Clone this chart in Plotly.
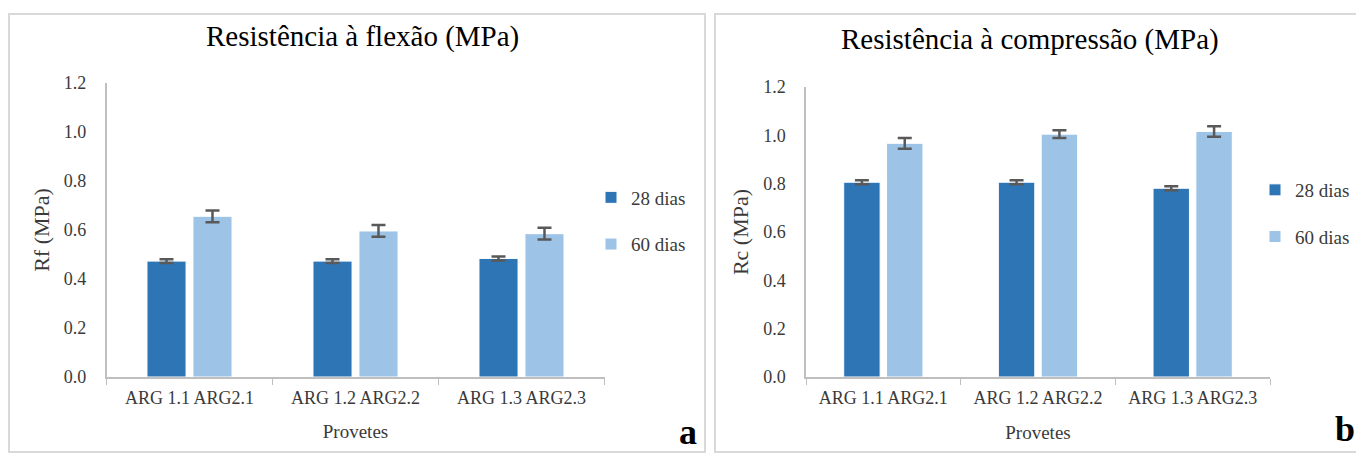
import plotly.graph_objects as go

categories = ["ARG 1.1 ARG2.1", "ARG 1.2 ARG2.2", "ARG 1.3 ARG2.3"]

flex_28 = [0.473, 0.473, 0.484]
flex_28_err = [0.008, 0.008, 0.008]
flex_60 = [0.656, 0.596, 0.585]
flex_60_err = [0.024, 0.024, 0.024]

comp_28 = [0.806, 0.806, 0.781]
comp_28_err = [0.008, 0.008, 0.008]
comp_60 = [0.967, 1.005, 1.016]
comp_60_err = [0.022, 0.016, 0.022]

series_names = ["28 dias", "60 dias"]
y_ticks = [0.0, 0.2, 0.4, 0.6, 0.8, 1.0, 1.2]

DARK = "#2E75B6"
LIGHT = "#9DC3E6"
ERR = "#595959"
FONT = "Liberation Serif"
TXT = "#3A3A3A"
W, H = 1356, 457

def px(x):
    return x / W

def py(y):
    return 1 - y / H

fig = go.Figure()

def add_pair(vals28, err28, vals60, err60, xa, ya, legend):
    for name, vals, err, col in [(series_names[0], vals28, err28, DARK),
                                 (series_names[1], vals60, err60, LIGHT)]:
        fig.add_trace(go.Bar(
            x=categories, y=vals, name=name, xaxis=xa, yaxis=ya,
            legend=legend, legendgroup=legend + name,
            marker=dict(color=col, line=dict(color="white", width=1)),
            error_y=dict(type="data", array=err, visible=True,
                         color=ERR, thickness=2.5, width=7),
        ))

add_pair(flex_28, flex_28_err, flex_60, flex_60_err, "x", "y", "legend")
add_pair(comp_28, comp_28_err, comp_60, comp_60_err, "x2", "y2", "legend2")

axis_font = dict(family=FONT, size=18, color=TXT)
common_x = dict(type="category", showline=True, linecolor="#BFBFBF", linewidth=1.5,
                ticks="outside", tickson="boundaries", ticklen=6, tickcolor="#BFBFBF",
                tickfont=axis_font, showgrid=False, zeroline=False, fixedrange=True,
                automargin=False, ticklabelstandoff=4)
common_y = dict(range=[0, 1.2], tickvals=y_ticks, tickformat=".1f", showline=True,
                linecolor="#BFBFBF", linewidth=1.5, ticks="", showgrid=False,
                zeroline=False, tickfont=axis_font, fixedrange=True,
                automargin=False, ticklabelstandoff=15)

fig.update_layout(
    width=W, height=H,
    margin=dict(l=0, r=0, t=0, b=0, autoexpand=False),
    paper_bgcolor="white", plot_bgcolor="white",
    barmode="group", bargap=0.446, bargroupgap=0.15,
    font=dict(family=FONT, color=TXT),
    showlegend=True,
    xaxis=dict(domain=[px(106.5), px(604.5)], anchor="y",
               title=dict(text="Provetes", font=dict(family=FONT, size=19, color=TXT), standoff=17),
               **common_x),
    yaxis=dict(domain=[py(377), py(83)], anchor="x",
               title=dict(text="Rf (MPa)", font=dict(family=FONT, size=22, color=TXT), standoff=8),
               **common_y),
    xaxis2=dict(domain=[px(806), px(1270)], anchor="y2",
                title=dict(text="Provetes", font=dict(family=FONT, size=19, color=TXT), standoff=18),
                **common_x),
    yaxis2=dict(domain=[py(377), py(87)], anchor="x2",
                title=dict(text="Rc (MPa)", font=dict(family=FONT, size=22, color=TXT), standoff=8),
                **common_y),
    legend=dict(x=px(591), y=py(221), xanchor="left", yanchor="middle",
                font=dict(family=FONT, size=19, color=TXT),
                tracegroupgap=19, bgcolor="rgba(0,0,0,0)", itemclick=False),
    legend2=dict(x=px(1255), y=py(213.5), xanchor="left", yanchor="middle",
                 font=dict(family=FONT, size=19, color=TXT),
                 tracegroupgap=19, bgcolor="rgba(0,0,0,0)", itemclick=False),
    annotations=[
        dict(text="Resistência à flexão (MPa)", x=px(362), y=py(36), xref="paper", yref="paper",
             showarrow=False, xanchor="center", yanchor="middle",
             font=dict(family=FONT, size=29, color="#000000")),
        dict(text="Resistência à compressão (MPa)", x=px(1030), y=py(39), xref="paper", yref="paper",
             showarrow=False, xanchor="center", yanchor="middle",
             font=dict(family=FONT, size=29, color="#000000")),
        dict(text="<b>a</b>", x=px(688), y=py(432), xref="paper", yref="paper",
             showarrow=False, xanchor="center", yanchor="middle",
             font=dict(family=FONT, size=36, color="#000000")),
        dict(text="<b>b</b>", x=px(1345), y=py(429), xref="paper", yref="paper",
             showarrow=False, xanchor="center", yanchor="middle",
             font=dict(family=FONT, size=36, color="#000000")),
    ],
    shapes=[
        dict(type="rect", xref="paper", yref="paper", x0=px(9), x1=px(705), y0=py(452), y1=py(14),
             line=dict(color="#D9D9D9", width=2), layer="below"),
        dict(type="rect", xref="paper", yref="paper", x0=px(715), x1=px(1360), y0=py(452), y1=py(14),
             line=dict(color="#D9D9D9", width=2), layer="below"),
    ],
)

fig.write_html("out.html", config={"displayModeBar": False},
               post_script="document.body.style.margin='0px';")
